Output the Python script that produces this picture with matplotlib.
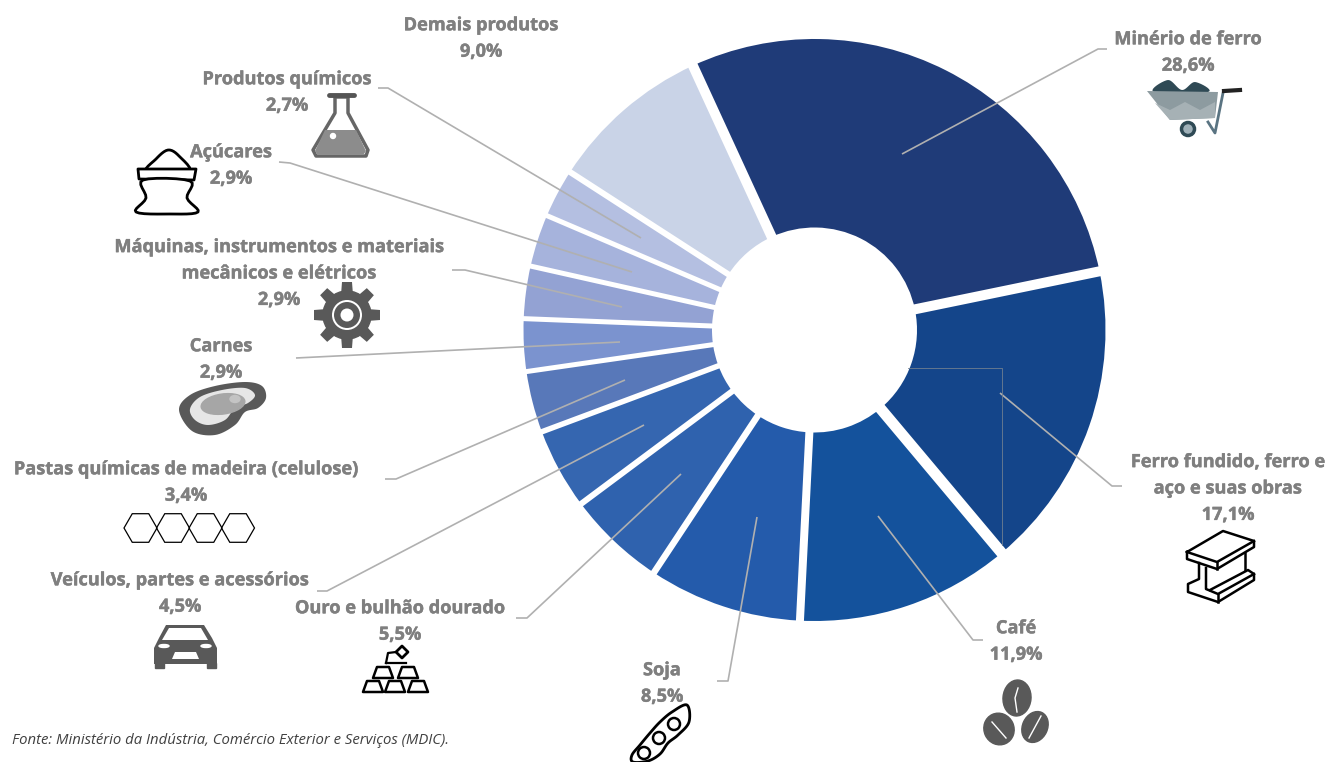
import matplotlib
matplotlib.use('Agg')
import matplotlib.pyplot as plt
import matplotlib.patheffects as pe
from matplotlib.patches import Polygon, Circle, Ellipse, Rectangle, RegularPolygon
import numpy as np

categorias = ['Minério de ferro', 'Ferro fundido, ferro e\naço e suas obras', 'Café', 'Soja',
              'Ouro e bulhão dourado', 'Veículos, partes e acessórios',
              'Pastas químicas de madeira (celulose)', 'Carnes',
              'Máquinas, instrumentos e materiais\nmecânicos e elétricos', 'Açúcares',
              'Produtos químicos', 'Demais produtos']
valores = [28.6, 17.1, 11.9, 8.5, 5.5, 4.5, 3.4, 2.9, 2.9, 2.9, 2.7, 9.0]
cores = ['#1f3b78', '#14458a', '#14529c', '#245bab', '#2f62ae', '#3566b0',
         '#5878b9', '#7b93cf', '#93a2d3', '#a6b3dc', '#b4bfe1', '#c9d3e7']
# largura (px) do espaço branco depois de cada fatia
espacos = [10, 11, 8, 6.5, 6, 5.5, 5, 5, 5, 5, 6, 10]

# centro de cada rótulo, em pixels da imagem
pos_rotulos = [(1188, 52.5), (1228, 488.5), (1016, 641.5), (662, 683.5), (400, 621.5), (180, 593.5),
               (186, 482.5), (221, 359.5), (279, 273.5), (231, 165.5), (287, 92.5), (481, 38.5)]
linhas = [[(902, 154), (1098, 49), (1107, 49)], [(1000, 393), (1112, 486), (1122, 486)],
          [(878, 516), (973, 640), (983, 640)], [(757, 517), (728, 681), (717, 681)],
          [(681, 474), (527, 618), (516, 618)], [(644, 425), (327, 591), (317, 591)],
          [(625, 380), (396, 479), (385, 479)], [(620, 342), (296, 358)],
          [(622, 307), (465, 270), (452, 270)], [(632, 272), (290, 163), (279, 162)],
          [(641, 238), (388, 88), (378, 88)]]

CINZA = '#7f7f7f'
ESCURO = '#595959'
FONTE = 'Open Sans'
CX, CY = 814.5, 330
R_EXT, R_INT = 291, 102.5
INICIO = -114.7

fig = plt.figure(figsize=(13.3, 7.62), dpi=100)
ax = fig.add_axes([0, 0, 1, 1])

# eixo y invertido: o sentido anti-horário dos dados aparece horário na tela
ax.pie(valores, colors=cores, center=(CX, CY), radius=R_EXT, startangle=INICIO,
       counterclock=True, wedgeprops=dict(width=R_EXT - R_INT, linewidth=0))
ax.set_xlim(0, 1330)
ax.set_ylim(762, 0)
ax.axis('off')

# espaços brancos entre as fatias
fim = np.radians(INICIO + np.cumsum(valores) / np.sum(valores) * 360)
for a, g in zip(fim, espacos):
    ax.plot([CX + 95 * np.cos(a), CX + 300 * np.cos(a)], [CY + 95 * np.sin(a), CY + 300 * np.sin(a)],
            color='white', lw=g * 0.72, solid_capstyle='butt', zorder=2)

for nome, v, (x, y) in zip(categorias, valores, pos_rotulos):
    txt = nome + '\n' + f'{v:.1f}%'.replace('.', ',')
    ax.text(x, y, txt, ha='center', va='center', color=CINZA, fontsize=13.1, fontweight='bold',
            family=FONTE, linespacing=1.6, zorder=6,
            path_effects=[pe.withStroke(linewidth=0.3, foreground=CINZA)])

for ln in linhas:
    xs, ys = zip(*ln)
    ax.plot(xs, ys, color='#b0b0b0', lw=1.2, solid_capstyle='butt', zorder=3)
ax.plot([908, 1002, 1002], [368, 368, 545], color='#6f7f90', lw=0.6, zorder=3)

ax.text(12, 740, 'Fonte: Ministério da Indústria, Comércio Exterior e Serviços (MDIC).', ha='left', va='center',
        color='#404040', fontsize=10.7, style='italic', family=FONTE)


def poly(pts, fc='none', ec='black', lw=1.6, z=3):
    ax.add_patch(Polygon(pts, closed=True, facecolor=fc, edgecolor=ec, linewidth=lw, zorder=z, joinstyle='round'))


def liso(pts, n=10):
    # curva fechada passando pelos pontos (Catmull-Rom)
    p = np.array(pts, dtype=float)
    saida = []
    for i in range(len(p)):
        p0, p1, p2, p3 = p[i - 1], p[i], p[(i + 1) % len(p)], p[(i + 2) % len(p)]
        for t in np.linspace(0, 1, n, endpoint=False):
            saida.append(0.5 * (2 * p1 + (p2 - p0) * t + (2 * p0 - 5 * p1 + 4 * p2 - p3) * t ** 2
                                + (3 * p1 - p0 - 3 * p2 + p3) * t ** 3))
    return saida


def tracos(pts, lw=1.8):
    xs, ys = zip(*pts)
    ax.plot(xs, ys, color='black', lw=lw, zorder=4, solid_joinstyle='round')


# carrinho de minério
poly(liso([(1154, 92), (1168, 80), (1182, 90), (1195, 82), (1208, 92)]), fc='#2f4a55', ec='none', z=2)
poly([(1147, 91), (1218, 92), (1215, 118), (1170, 120)], fc='#8d9ba0', ec='none')
poly([(1155, 103), (1170, 110), (1185, 102), (1200, 110), (1215, 102), (1215, 118), (1170, 120)], fc='#a6b1b5', ec='none')
ax.plot([1223, 1215, 1208], [93, 133, 122], color='#5a7482', lw=2, zorder=3)
ax.plot([1224, 1240], [91, 90], color='#222222', lw=3, zorder=3)
ax.add_patch(Circle((1188, 129), 6.5, fc='#9fb0b8', ec='#2f4a55', lw=2.5, zorder=4))

# viga de aço
tracos([(1187, 552), (1223, 531), (1254, 541), (1254, 547), (1217, 569), (1187, 559), (1187, 552)])
tracos([(1187, 552), (1217, 562), (1254, 541)])
tracos([(1217, 562), (1217, 569)])
tracos([(1199, 563), (1199, 579), (1188, 584), (1188, 592), (1218, 602), (1254, 580), (1254, 574), (1248, 570), (1210, 590)])
tracos([(1206, 568), (1206, 589), (1218, 594), (1254, 574)])
tracos([(1218, 594), (1218, 602)])
tracos([(1245, 553), (1245, 570)])

# grãos de café
for (cx, cy, w, h, ang) in [(1017, 698, 28, 36, 5), (999, 729, 30, 32, -25), (1035, 727, 25, 32, 25)]:
    ax.add_patch(Ellipse((cx, cy), w, h, angle=ang, color=ESCURO, zorder=3))
ax.plot([1018, 1015, 1017], [688, 698, 712], color='white', lw=1, zorder=4)
ax.plot([992, 1006], [722, 738], color='white', lw=1, zorder=4)
ax.plot([1041, 1029], [716, 738], color='white', lw=1, zorder=4)

# vagem de soja
poly(liso([(687, 705), (689, 722), (678, 735), (668, 743), (660, 754), (648, 761), (633, 762), (632, 755), (640, 745), (650, 733),
           (660, 722), (672, 712)]), fc='white', lw=2)
for (cx, cy) in [(674, 724), (659, 738), (644, 753)]:
    ax.add_patch(Circle((cx, cy), 6, fc='none', ec='black', lw=1.8, zorder=4))

# barras de ouro
for (x0, y0) in [(363, 681), (385, 681), (408, 681), (373, 667), (398, 667)]:
    poly([(x0 + 4, y0), (x0 + 16, y0), (x0 + 20, y0 + 11), (x0, y0 + 11)], lw=1.8)
tracos([(386, 663), (388, 653), (396, 652)], lw=1.6)
tracos([(386, 663), (406, 663)], lw=1.6)
poly([(402, 646), (408, 652), (402, 658), (396, 652)], fc='white', lw=2)

# carro
poly([(166, 625), (204, 625), (212, 638), (217, 648), (217, 664), (154, 664), (154, 648), (159, 638)], fc=ESCURO, ec='none')
poly([(169, 628), (201, 628), (208, 640), (162, 640)], fc='white', ec='none')
ax.add_patch(Rectangle((155, 663), 9, 5, color=ESCURO, zorder=3))
ax.add_patch(Rectangle((207, 663), 9, 5, color=ESCURO, zorder=3))
poly([(175, 652), (196, 652), (199, 659), (172, 659)], fc='white', ec='none', z=4)
ax.add_patch(Ellipse((164, 646), 10, 3, color='white', zorder=4))
ax.add_patch(Ellipse((206, 646), 10, 3, color='white', zorder=4))

# hexágonos da celulose
for cx in [140.5, 173, 205.5, 238]:
    ax.add_patch(RegularPolygon((cx, 528), 6, radius=16.5, orientation=np.pi / 6, fc='none', ec='black', lw=0.9, zorder=3))

# peça de carne
poly(liso([(179, 410), (190, 395), (215, 386), (245, 382), (262, 386), (266, 398), (258, 408), (245, 412), (235, 425), (215, 435), (192, 431)]),
     fc=ESCURO, ec='none')
poly(liso([(190, 409), (200, 397), (222, 390), (245, 388), (255, 395), (248, 403), (235, 408), (225, 420), (208, 425), (195, 420)]),
     fc='#e6e6e6', ec='none', z=4)
ax.add_patch(Ellipse((223, 404), 44, 20, angle=-8, color='#a6a6a6', zorder=5))
ax.add_patch(Ellipse((235, 399), 10, 7, color='#c4c4c4', zorder=6))

# engrenagem
cx, cy = 347, 315
for k in range(8):
    a = k * np.pi / 4
    d = np.array([np.cos(a), np.sin(a)])
    n = np.array([-d[1], d[0]])
    c = np.array([cx, cy])
    poly([c + d * 20 - n * 6, c + d * 33 - n * 5, c + d * 33 + n * 5, c + d * 20 + n * 6], fc=ESCURO, ec='none')
ax.add_patch(Circle((cx, cy), 24, color=ESCURO, zorder=3))
ax.add_patch(Circle((cx, cy), 15, fc='white', ec='none', zorder=4))
ax.add_patch(Circle((cx, cy), 13, fc=ESCURO, ec='none', zorder=5))
ax.add_patch(Circle((cx, cy), 6.5, fc='white', ec='none', zorder=6))

# saco de açúcar
poly(liso([(147, 172), (156, 159), (168, 150), (179, 156), (189, 172)], n=6), fc='none', lw=2)
poly([(138, 169), (196, 169), (194, 180), (139, 179)], fc='white', lw=2)
poly(liso([(143, 180), (190, 181), (187, 198), (198, 212), (170, 214), (136, 212), (146, 198)], n=6), fc='white', lw=2)

# frasco
poly([(335, 97), (348, 97), (348, 113), (368, 150), (366, 156), (316, 156), (313, 150), (335, 113)], fc='none', ec='#666666', lw=2.5)
poly([(325, 130), (356, 130), (366, 151), (364, 154), (317, 154), (315, 151)], fc='#8c8c8c', ec='none')
ax.add_patch(Circle((333, 136), 2.5, color='white', zorder=4))
ax.plot([329, 354], [95, 95], color='#555555', lw=3.5, solid_capstyle='round', zorder=4)

fig.savefig('out.png', dpi=100)
